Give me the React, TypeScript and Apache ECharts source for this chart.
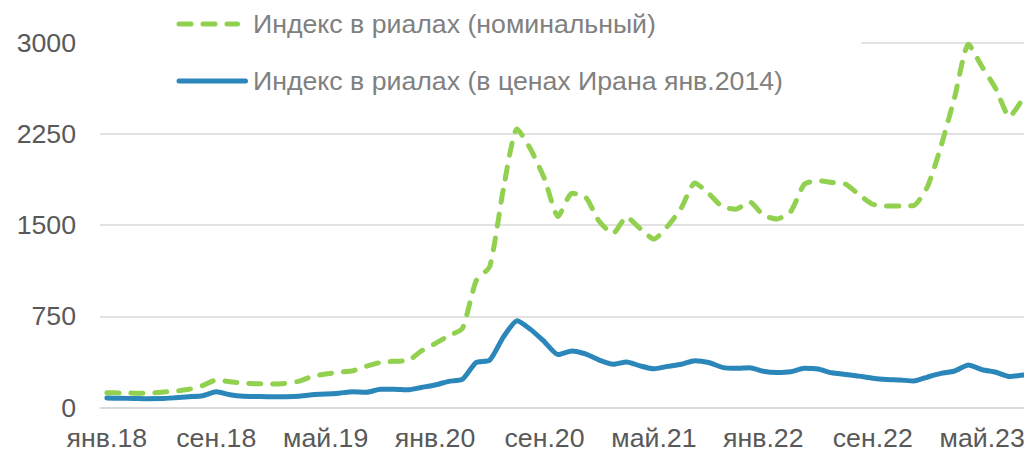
import React, { useEffect, useRef } from "react";
import * as echarts from "echarts";

const monthNames = ["янв", "фев", "мар", "апр", "май", "июн", "июл", "авг", "сен", "окт", "ноя", "дек"];
const years = ["18", "19", "20", "21", "22", "23"];
const lastYearMonths = 8; // янв.23 – авг.23

const categories: string[] = [];
years.forEach((y, yi) => {
  const n = yi === years.length - 1 ? lastYearMonths : 12;
  for (let m = 0; m < n; m++) categories.push(`${monthNames[m]}.${y}`);
});

const nominalName = "Индекс в риалах (номинальный)";
const realName = "Индекс в риалах (в ценах Ирана янв.2014)";

const nominal = [
  122, 120, 118, 117, 125, 135, 150, 180, 226, 212, 200, 195,
  193, 198, 215, 255, 275, 290, 302, 340, 370, 380, 385, 465,
  525, 590, 650, 1040, 1160, 1800, 2290, 2120, 1880, 1570, 1760, 1730,
  1530, 1430, 1565, 1470, 1385, 1490, 1640, 1845, 1760, 1650, 1630, 1690,
  1580, 1550, 1610, 1835, 1864, 1850, 1837, 1750, 1670, 1656, 1656, 1660,
  1815, 2150, 2555, 2985, 2800, 2620, 2390, 2545,
];

const real = [
  78, 76, 74, 72, 73, 80, 88, 97, 130, 105, 92, 90,
  88, 89, 92, 105, 110, 118, 130, 125, 150, 150, 145, 165,
  185, 215, 232, 370, 390, 580, 713, 640, 540, 435, 465, 440,
  390, 355, 375, 342, 318, 338, 355, 385, 370, 330, 322, 327,
  298, 288, 294, 322, 316, 285, 272, 258, 240, 230, 226, 218,
  250, 280, 300, 349, 310, 290, 255, 267,
];

const yTicks = { min: 0, max: 3000, interval: 750 };

const GREEN = "#92D050";
const BLUE = "#2B86B9";

export default function App() {
  const ref = useRef<HTMLDivElement>(null);

  useEffect(() => {
    if (!ref.current) return;
    const chart = echarts.init(ref.current, undefined, { renderer: "svg" });
    const font = "'Liberation Sans', Arial, sans-serif";
    const fs = 26.7;
    chart.setOption({
      animation: false,
      backgroundColor: "#ffffff",
      textStyle: { fontFamily: font },
      grid: { left: 100, right: -6, top: 42.5, bottom: 44.5, containLabel: false, outerBoundsMode: "none" },
      xAxis: {
        type: "category",
        data: categories,
        boundaryGap: true,
        axisLine: { show: true, lineStyle: { color: "#d9d9d9", width: 1.5 } },
        axisTick: { show: false },
        axisLabel: { interval: 7, fontSize: fs, color: "#595959", margin: 17, fontFamily: font },
        splitLine: { show: false },
      },
      yAxis: {
        type: "value",
        min: yTicks.min,
        max: yTicks.max,
        interval: yTicks.interval,
        axisLine: { show: false },
        axisTick: { show: false },
        axisLabel: { fontSize: fs, color: "#595959", margin: 24, fontFamily: font, formatter: (v: number) => String(v) },
        splitLine: { lineStyle: { color: "#d9d9d9", width: 1.5 } },
      },
      graphic: [
        { type: "rect", z: 50, shape: { x: 100, y: 36, width: 761, height: 12 }, style: { fill: "#ffffff" } },
        {
          type: "line", z: 51,
          shape: { x1: 179, y1: 24, x2: 237.5, y2: 24 },
          style: { stroke: GREEN, lineWidth: 5, lineDash: [12, 12], lineCap: "round" },
        },
        {
          type: "text", z: 51, x: 253, y: 24,
          style: { text: nominalName, fontSize: fs, fontFamily: font, fill: "#808080", verticalAlign: "middle", align: "left" },
        },
        {
          type: "line", z: 51,
          shape: { x1: 179, y1: 81, x2: 245.5, y2: 81 },
          style: { stroke: BLUE, lineWidth: 5, lineCap: "round" },
        },
        {
          type: "text", z: 51, x: 253, y: 81,
          style: { text: realName, fontSize: fs, fontFamily: font, fill: "#808080", verticalAlign: "middle", align: "left" },
        },
      ],
      series: [
        {
          name: nominalName,
          type: "line",
          data: nominal,
          symbol: "none",
          smooth: 0.2,
          z: 3,
          lineStyle: { color: GREEN, width: 5, type: [12, 12], cap: "round", join: "round" },
          itemStyle: { color: GREEN },
        },
        {
          name: realName,
          type: "line",
          data: real,
          symbol: "none",
          smooth: 0.2,
          z: 4,
          lineStyle: { color: BLUE, width: 5, cap: "round", join: "round" },
          itemStyle: { color: BLUE },
        },
      ],
    });
    return () => chart.dispose();
  }, []);

  return (
    <div
      ref={ref}
      style={{ position: "fixed", left: 0, top: 0, width: 1024, height: 452, overflow: "hidden" }}
    />
  );
}
